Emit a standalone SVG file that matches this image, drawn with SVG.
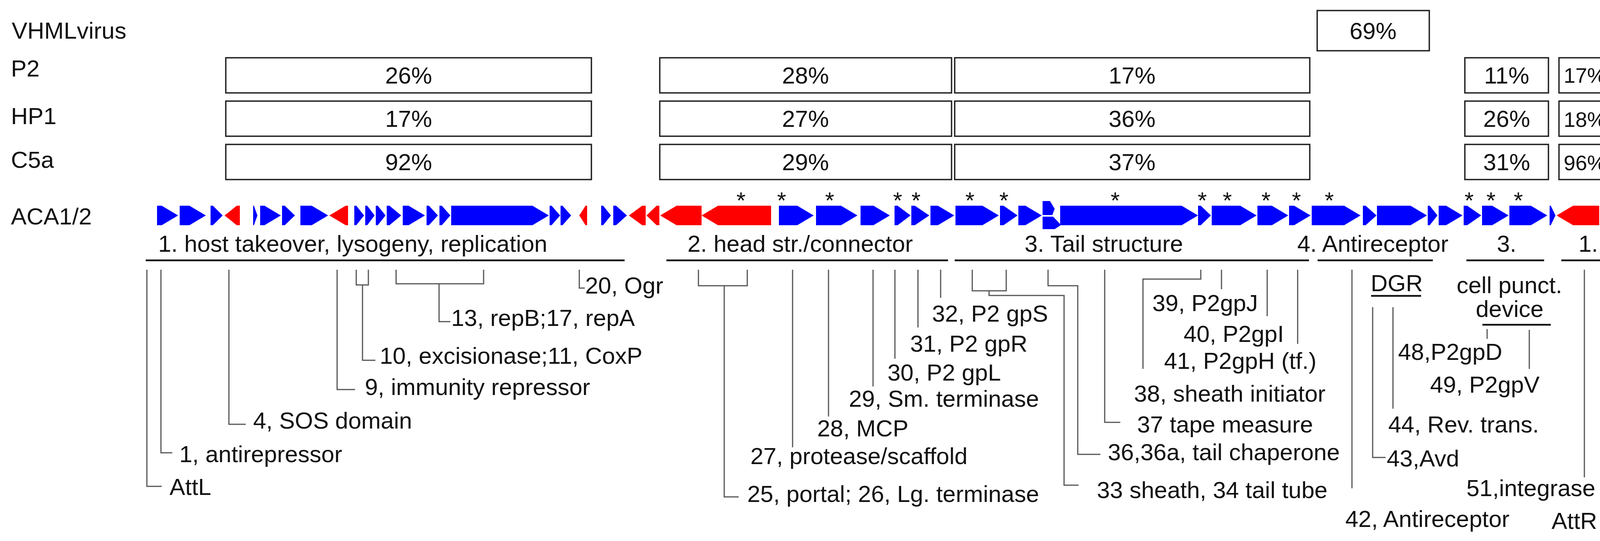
<svg xmlns="http://www.w3.org/2000/svg" width="4142" height="1386" viewBox="0 0 4142 1386">
<style>
text{font-family:"Liberation Sans",Arial,sans-serif;font-size:60px;fill:#111}
.pct{text-anchor:middle}
.sm{font-size:54px}
.box{fill:#fff;stroke:#222;stroke-width:3.5}
.b{fill:#0000ff}
.r{fill:#ff0000}
.ul{stroke:#111;stroke-width:4.5;fill:none}
.ld{stroke:#555;stroke-width:3;fill:none}
.st{text-anchor:middle}
</style>
<rect width="4142" height="1386" fill="#fff"/>
<g id="row-labels">
<text x="30" y="99">VHMLvirus</text>
<text x="28" y="196">P2</text>
<text x="28" y="318">HP1</text>
<text x="28" y="430">C5a</text>
<text x="28" y="575">ACA1/2</text>
</g>
<g id="vhml">
<rect class="box" x="3372" y="27" width="287" height="103"/><text class="pct" x="3515" y="100">69%</text>
</g>
<g id="p2">
<rect class="box" x="578" y="148" width="936" height="90"/><text class="pct" x="1046" y="214">26%</text>
<rect class="box" x="1689" y="148" width="747" height="90"/><text class="pct" x="2062" y="214">28%</text>
<rect class="box" x="2444" y="148" width="909" height="90"/><text class="pct" x="2898" y="214">17%</text>
<rect class="box" x="3750" y="148" width="214" height="90"/><text class="pct" x="3857" y="214">11%</text>
<rect class="box" x="3991" y="148" width="133" height="90"/><text class="pct sm" x="4057" y="212">17%</text>
</g>
<g id="hp1">
<rect class="box" x="578" y="259" width="936" height="90"/><text class="pct" x="1046" y="325">17%</text>
<rect class="box" x="1689" y="259" width="747" height="90"/><text class="pct" x="2062" y="325">27%</text>
<rect class="box" x="2444" y="259" width="909" height="90"/><text class="pct" x="2898" y="325">36%</text>
<rect class="box" x="3750" y="259" width="214" height="90"/><text class="pct" x="3857" y="325">26%</text>
<rect class="box" x="3991" y="259" width="133" height="90"/><text class="pct sm" x="4057" y="325">18%</text>
</g>
<g id="c5a">
<rect class="box" x="578" y="370" width="936" height="90"/><text class="pct" x="1046" y="436">92%</text>
<rect class="box" x="1689" y="370" width="747" height="90"/><text class="pct" x="2062" y="436">29%</text>
<rect class="box" x="2444" y="370" width="909" height="90"/><text class="pct" x="2898" y="436">37%</text>
<rect class="box" x="3750" y="370" width="214" height="90"/><text class="pct" x="3857" y="436">31%</text>
<rect class="box" x="3991" y="370" width="133" height="90"/><text class="pct sm" x="4057" y="436">96%</text>
</g>
<g id="stars">
<text class="st" x="1897" y="534">*</text><text class="st" x="2001" y="534">*</text><text class="st" x="2124" y="534">*</text>
<text class="st" x="2298" y="534">*</text><text class="st" x="2345" y="534">*</text><text class="st" x="2483" y="534">*</text>
<text class="st" x="2570" y="534">*</text><text class="st" x="2855" y="534">*</text><text class="st" x="3078" y="534">*</text>
<text class="st" x="3142" y="534">*</text><text class="st" x="3241" y="534">*</text><text class="st" x="3319" y="534">*</text>
<text class="st" x="3403" y="534">*</text><text class="st" x="3761" y="534">*</text><text class="st" x="3817" y="534">*</text>
<text class="st" x="3887" y="534">*</text>
</g>
<g id="genes">
<polygon class="b" points="402,527 414,527 456,552 414,577 402,577"/>
<polygon class="b" points="460,527 485,527 527,552 485,577 460,577"/>
<polygon class="b" points="539,527 545,527 570,552 545,577 539,577"/>
<polygon class="r" points="575,552 606,527 614,527 614,577 606,577"/>
<polygon class="b" points="648,527 650,527 659,552 650,577 648,577"/>
<polygon class="b" points="666,527 677,527 719,552 677,577 666,577"/>
<polygon class="b" points="722,527 729,527 755,552 729,577 722,577"/>
<polygon class="b" points="769,527 798,527 840,552 798,577 769,577"/>
<polygon class="r" points="843,552 885,527 891,527 891,577 885,577"/>
<polygon class="b" points="907,527 912,527 932,552 912,577 907,577"/>
<polygon class="b" points="935,527 940,527 959,552 940,577 935,577"/>
<polygon class="b" points="962,527 967,527 987,552 967,577 962,577"/>
<polygon class="b" points="990,527 997,527 1027,552 997,577 990,577"/>
<polygon class="b" points="1031,527 1046,527 1088,552 1046,577 1031,577"/>
<polygon class="b" points="1092,527 1098,527 1121,552 1098,577 1092,577"/>
<polygon class="b" points="1125,527 1131,527 1153,552 1131,577 1125,577"/>
<polygon class="b" points="1155,527 1363,527 1405,552 1363,577 1155,577"/>
<polygon class="b" points="1407,527 1412,527 1434,552 1412,577 1407,577"/>
<polygon class="b" points="1435,527 1440,527 1462,552 1440,577 1435,577"/>
<polygon class="r" points="1483,552 1499,527 1503,527 1503,577 1499,577"/>
<polygon class="b" points="1539,527 1544,527 1564,552 1544,577 1539,577"/>
<polygon class="b" points="1570,527 1577,527 1605,552 1577,577 1570,577"/>
<polygon class="r" points="1610,552 1644,527 1653,527 1653,577 1644,577"/>
<polygon class="r" points="1655,552 1681,527 1688,527 1688,577 1681,577"/>
<polygon class="r" points="1690,552 1732,527 1796,527 1796,577 1732,577"/>
<polygon class="r" points="1796,552 1838,527 1974,527 1974,577 1838,577"/>
<polygon class="b" points="1994,527 2041,527 2083,552 2041,577 1994,577"/>
<polygon class="b" points="2089,527 2153,527 2195,552 2153,577 2089,577"/>
<polygon class="b" points="2203,527 2236,527 2278,552 2236,577 2203,577"/>
<polygon class="b" points="2290,527 2298,527 2331,552 2298,577 2290,577"/>
<polygon class="b" points="2333,527 2342,527 2379,552 2342,577 2333,577"/>
<polygon class="b" points="2382,527 2401,527 2443,552 2401,577 2382,577"/>
<polygon class="b" points="2446,527 2515,527 2557,552 2515,577 2446,577"/>
<polygon class="b" points="2560,527 2569,527 2605,552 2569,577 2560,577"/>
<polygon class="b" points="2607,527 2625,527 2667,552 2625,577 2607,577"/>
<polygon class="b" points="2669,515 2688,515 2700,535 2694,551 2669,551"/>
<polygon class="b" points="2669,555 2696,555 2714,574 2714,578 2700,587 2669,587"/>
<polygon class="b" points="2714,527 3025,527 3067,552 3025,577 2714,577"/>
<polygon class="b" points="3067,527 3074,527 3100,552 3074,577 3067,577"/>
<polygon class="b" points="3102,527 3175,527 3217,552 3175,577 3102,577"/>
<polygon class="b" points="3219,527 3256,527 3298,552 3256,577 3219,577"/>
<polygon class="b" points="3300,527 3313,527 3355,552 3313,577 3300,577"/>
<polygon class="b" points="3358,527 3441,527 3483,552 3441,577 3358,577"/>
<polygon class="b" points="3489,527 3496,527 3524,552 3496,577 3489,577"/>
<polygon class="b" points="3525,527 3611,527 3653,552 3611,577 3525,577"/>
<polygon class="b" points="3655,527 3660,527 3680,552 3660,577 3655,577"/>
<polygon class="b" points="3683,527 3702,527 3744,552 3702,577 3683,577"/>
<polygon class="b" points="3747,527 3756,527 3792,552 3756,577 3747,577"/>
<polygon class="b" points="3794,527 3820,527 3862,552 3820,577 3794,577"/>
<polygon class="b" points="3864,527 3919,527 3961,552 3919,577 3864,577"/>
<polygon class="b" points="3967,527 3970,527 3982,552 3970,577 3967,577"/>
<polygon class="r" points="3985,552 4027,527 4094,527 4094,577 4027,577"/>
</g>
<g id="sections">
<text x="405" y="645">1.  host takeover, lysogeny, replication</text>
<text x="1760" y="645">2. head str./connector</text>
<text x="2623" y="645">3. Tail structure</text>
<text x="3321" y="645">4. Antireceptor</text>
<text x="3832" y="645">3.</text>
<text x="4041" y="645">1.</text>
<path class="ul" d="M373 667H1599M1706 667H2427M2444 667H3351M3373 667H3668M3754 667H3953M3997 667H4120M3510 758H3638M3795 832H3970"/>
<text x="3509" y="746">DGR</text>
<text x="3729" y="751">cell punct.</text>
<text x="3778" y="812">device</text>
</g>
<g id="connectors">
<path class="ld" d="M376 691V1246H414M412 691V1160H441M586 691V1087H629M863 691V998H909M912 691V730H943V691M928 730V923H961M1014 691V727H1238V691M1124 727V824H1153M1483 691V738H1497M1788 691V732H1913V691M1854 732V1273H1891M2029 691V1146M2121 691V1067M2235 691V990M2291 691V919M2350 691V839M2408 691V763M2489 691V745H2576V691M2532 745V757H2724V1243H2761M2683 691V732H2759V1164H2817M2828 691V1082H2868M3074 691V715H2926V945M3127 691V741M3244 691V810M3322 691V881M3461 691V1251M3514 787V1172H3547M3566 787V1047M3807 843V868M3915 845V945M4056 691V1223M4119 691V1340H4101"/>
</g>
<g id="labels">
<text x="434" y="1268">AttL</text>
<text x="459" y="1184">1, antirepressor</text>
<text x="648" y="1098">4, SOS domain</text>
<text x="934" y="1012">9, immunity repressor</text>
<text x="972" y="932">10, excisionase;11, CoxP</text>
<text x="1155" y="835">13, repB;17, repA</text>
<text x="1498" y="752">20, Ogr</text>
<text x="1913" y="1286">25, portal; 26, Lg. terminase</text>
<text x="1921" y="1189">27, protease/scaffold</text>
<text x="2092" y="1118">28, MCP</text>
<text x="2173" y="1042">29, Sm. terminase</text>
<text x="2272" y="975">30, P2 gpL</text>
<text x="2330" y="901">31, P2 gpR</text>
<text x="2386" y="824">32, P2 gpS</text>
<text x="2808" y="1276">33 sheath, 34 tail tube</text>
<text x="2836" y="1179">36,36a, tail chaperone</text>
<text x="2911" y="1108">37 tape measure</text>
<text x="2903" y="1029">38, sheath initiator</text>
<text x="2950" y="797">39, P2gpJ</text>
<text x="3030" y="876">40, P2gpI</text>
<text x="2980" y="945">41, P2gpH (tf.)</text>
<text x="3444" y="1350">42, Antireceptor</text>
<text x="3550" y="1195">43,Avd</text>
<text x="3554" y="1108">44, Rev. trans.</text>
<text x="3579" y="922">48,P2gpD</text>
<text x="3661" y="1006">49, P2gpV</text>
<text x="3754" y="1271">51,integrase</text>
<text x="3972" y="1355">AttR</text>
</g>
</svg>
